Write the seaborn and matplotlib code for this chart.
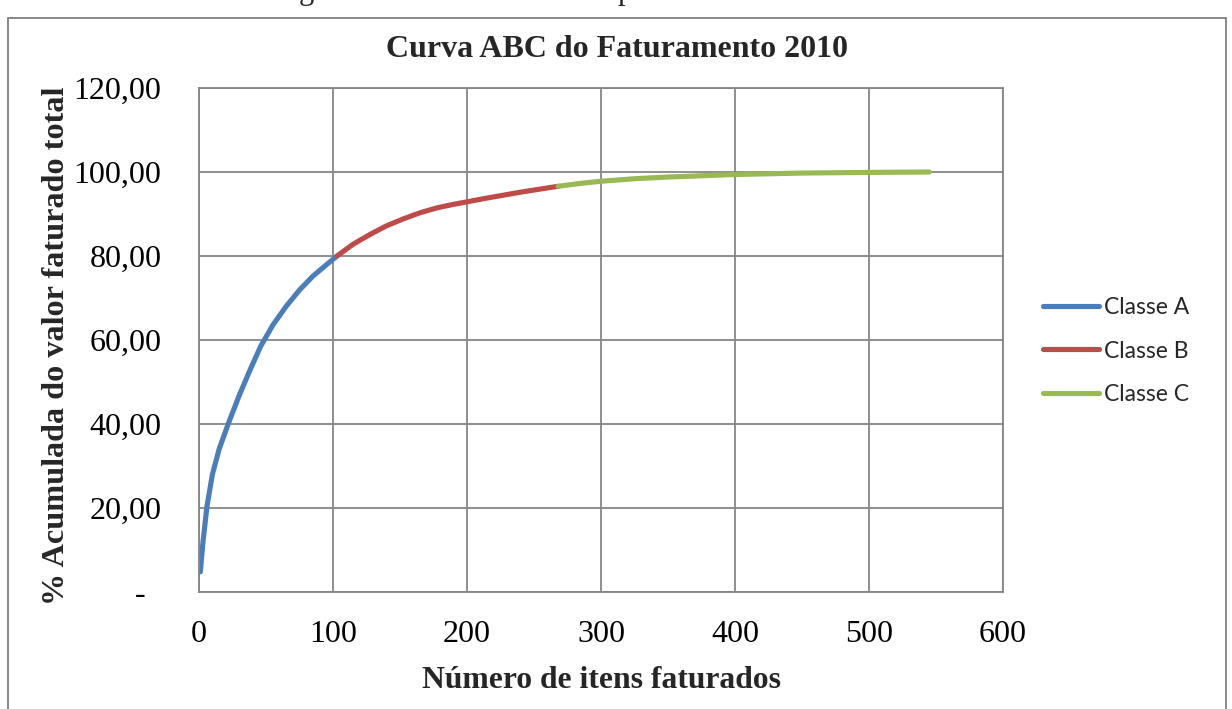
import matplotlib
matplotlib.use("Agg")
import matplotlib.pyplot as plt
import matplotlib.patches as mpatches
from matplotlib.lines import Line2D
from matplotlib.ticker import FixedLocator, FuncFormatter
import seaborn as sns
import pandas as pd

# ---- data ----
classe_a_x = [1, 3, 6, 10, 15, 22, 30, 38, 46, 55, 65, 75, 85, 95, 103]
classe_a_y = [4.8, 12.0, 20.5, 28.0, 34.0, 40.2, 46.8, 52.8, 58.5, 63.5, 68.0,
              71.9, 75.2, 77.9, 80.0]
classe_b_x = [103, 115, 128, 140, 153, 165, 178, 190, 200, 215, 240, 268]
classe_b_y = [80.0, 82.8, 85.2, 87.2, 88.9, 90.3, 91.5, 92.3, 92.9, 93.8, 95.2, 96.6]
classe_c_x = [268, 285, 300, 325, 350, 400, 450, 500, 545]
classe_c_y = [96.6, 97.3, 97.8, 98.4, 98.8, 99.4, 99.75, 99.9, 100.0]
classes = ["Classe A", "Classe B", "Classe C"]
colors = ["#4A7EBB", "#BE4B48", "#98B954"]

title = "Curva ABC do Faturamento 2010"
xlabel = "Número de itens faturados"
ylabel = "% Acumulada do valor faturado total"
x_ticks = [0, 100, 200, 300, 400, 500, 600]
y_ticks = [0, 20, 40, 60, 80, 100, 120]

df = pd.DataFrame({
    "x": classe_a_x + classe_b_x + classe_c_x,
    "y": classe_a_y + classe_b_y + classe_c_y,
    "Classe": [classes[0]] * len(classe_a_x) + [classes[1]] * len(classe_b_x)
              + [classes[2]] * len(classe_c_x),
})

sns.set_style("white")
plt.rcParams["font.family"] = ["Liberation Serif", "DejaVu Serif"]

W, H = 1232, 709
fig = plt.figure(figsize=(W / 100, H / 100), dpi=100)
ax = fig.add_axes([199 / W, 1 - 592 / H, (1003 - 199) / W, (592 - 88) / H])

sns.lineplot(data=df, x="x", y="y", hue="Classe", palette=colors,
             linewidth=3.7, estimator=None, sort=True, ax=ax,
             solid_capstyle="round", solid_joinstyle="round", legend=False)

grid_c = "#868686"
ax.set_xlim(0, 600)
ax.set_ylim(0, 120)
ax.xaxis.set_major_locator(FixedLocator(x_ticks))
ax.yaxis.set_major_locator(FixedLocator(y_ticks))
ax.yaxis.set_major_formatter(FuncFormatter(
    lambda v, p: "-  " if v == 0 else f"{v:.2f}".replace(".", ",")))
ax.xaxis.set_major_formatter(FuncFormatter(lambda v, p: f"{int(v)}"))
ax.grid(True, color=grid_c, linewidth=1.3)
ax.set_axisbelow(True)
for s in ax.spines.values():
    s.set_color(grid_c)
    s.set_linewidth(1.3)
ax.tick_params(axis="both", which="major", direction="out", length=7,
               width=1.3, color=grid_c, labelsize=23, labelcolor="black")
ax.tick_params(axis="y", pad=20)
ax.tick_params(axis="x", pad=13)
ax.set_xlabel("")
ax.set_ylabel("")

fig.text(617 / W, 1 - 57 / H, title, ha="center", va="baseline",
         fontsize=23, fontweight="bold")
fig.text(602 / W, 1 - 688 / H, xlabel, ha="center", va="baseline",
         fontsize=22.8, fontweight="bold")
fig.text(57 / W, 1 - 346 / H, ylabel, ha="center", va="center",
         rotation=90, fontsize=23.2, fontweight="bold")

# clipped caption fragments at the very top
fig.text(306 / W, 1 + 1 / H, "g", ha="center", va="baseline", fontsize=22)
fig.text(625 / W, 1 + 1 / H, "p", ha="center", va="baseline", fontsize=22)

handles = [Line2D([0], [0], color=c, lw=3.7, solid_capstyle="round") for c in colors]
fig.legend(handles, classes, loc="center left",
           bbox_to_anchor=(1043 / W, 1 - 351 / H), frameon=False,
           borderpad=0, borderaxespad=0, handlelength=2.45, handletextpad=0.2,
           labelspacing=1.0, prop={"family": "Lato", "size": 16.5})

# outer chart border
fig.patches.append(mpatches.Rectangle((8 / W, -0.05), (1226 - 8) / W,
                                      1 - 18 / H + 0.05, transform=fig.transFigure,
                                      fill=False, edgecolor="#7F7F7F", linewidth=1.3))

fig.savefig("out.png", dpi=100)
